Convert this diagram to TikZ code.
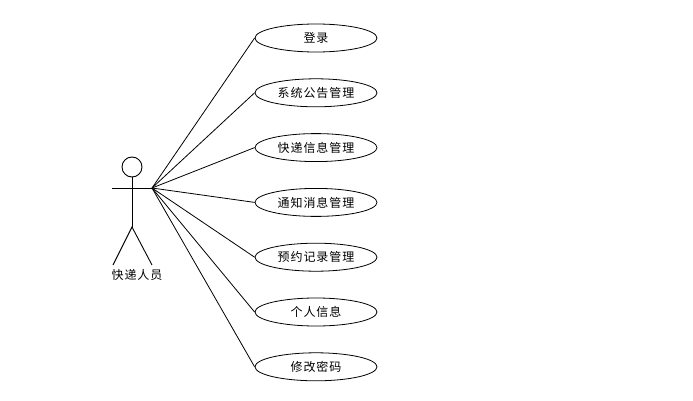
\documentclass[tikz,border=0pt]{standalone}
\usepackage{fontspec}
\setmainfont{Noto Sans CJK SC}[LetterSpace=8]
\usetikzlibrary{positioning, shapes.geometric}
\tikzset{
	usecase/.style={ellipse, draw=black, line width=0.8pt, fill=white,
		minimum width=122pt, minimum height=28pt, inner sep=0pt,
		font=\fontsize{12}{14}\selectfont},
	assoc/.style={draw=black, line width=0.8pt},
	actorline/.style={draw=black, line width=0.9pt},
	actorlabel/.style={font=\fontsize{12}{14}\selectfont, inner sep=1pt}
}
\begin{document}
\begin{tikzpicture}[x=1pt, y=-1pt, node distance=26pt]
			\useasboundingbox (0,0) rectangle (693,401);
			% actor
			\draw[actorline] (132,167) circle (10);
			\draw[actorline] (132,177) -- (132,227);
			\draw[actorline] (112,188) -- (152,188);
			\draw[actorline] (113,265) -- (132,227) -- (152,265);
			\coordinate (hand) at (152,188);
			\node[actorlabel] (courier) at (137,275) {快递人员};
			% use cases
			\node[usecase] (login) at (316,38) {登录};
			\node[usecase, below=of login] (notice) {系统公告管理};
			\node[usecase, below=of notice] (express) {快递信息管理};
			\node[usecase, below=of express] (message) {通知消息管理};
			\node[usecase, below=of message] (booking) {预约记录管理};
			\node[usecase, below=of booking] (profile) {个人信息};
			\node[usecase, below=of profile] (passwd) {修改密码};
			\draw[assoc] (hand) -- (login.west);
			\draw[assoc] (hand) -- (notice.west);
			\draw[assoc] (hand) -- (express.west);
			\draw[assoc] (hand) -- (message.west);
			\draw[assoc] (hand) -- (booking.west);
			\draw[assoc] (hand) -- (profile.west);
			\draw[assoc] (hand) -- (passwd.west);
		\end{tikzpicture}
\end{document}
